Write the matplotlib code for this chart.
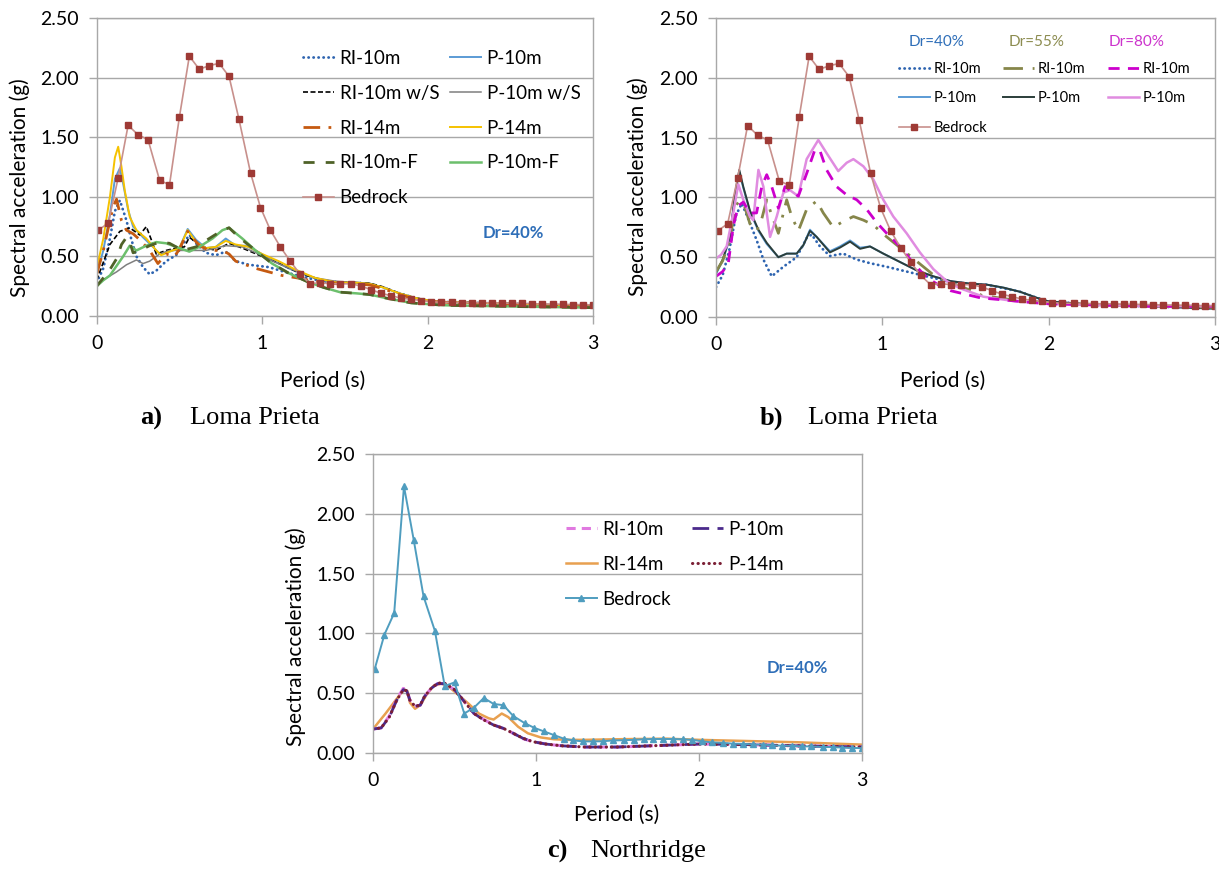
import numpy as np
import matplotlib
matplotlib.use("Agg")
import matplotlib.pyplot as plt
from matplotlib.legend import Legend

plt.rcParams['font.family'] = ['Lato', 'DejaVu Sans']

W, H = 1219, 871

# ---------------- data ----------------
T_BED = [0.01, 0.07, 0.13, 0.19, 0.25, 0.31, 0.38, 0.44, 0.50, 0.56, 0.62, 0.68, 0.74, 0.80,
         0.86, 0.93, 0.99, 1.05, 1.11, 1.17, 1.23, 1.29, 1.35, 1.41, 1.47, 1.54, 1.60, 1.66,
         1.72, 1.78, 1.84, 1.90, 1.96, 2.02, 2.08, 2.15, 2.21, 2.27, 2.33, 2.39, 2.45, 2.51,
         2.57, 2.63, 2.69, 2.76, 2.82, 2.88, 2.94, 3.00]
LP_BEDROCK = [0.72, 0.78, 1.16, 1.60, 1.52, 1.48, 1.14, 1.10, 1.67, 2.18, 2.07, 2.10, 2.12, 2.01,
              1.65, 1.20, 0.91, 0.72, 0.58, 0.46, 0.35, 0.27, 0.28, 0.27, 0.27, 0.27, 0.25, 0.22,
              0.19, 0.17, 0.15, 0.14, 0.13, 0.12, 0.115, 0.115, 0.113, 0.112, 0.11, 0.11, 0.108,
              0.106, 0.105, 0.103, 0.10, 0.10, 0.098, 0.096, 0.095, 0.093]
NR_BEDROCK = [0.70, 0.99, 1.17, 2.23, 1.78, 1.31, 1.02, 0.56, 0.59, 0.33, 0.38, 0.46, 0.41, 0.40,
              0.31, 0.25, 0.21, 0.18, 0.15, 0.12, 0.105, 0.097, 0.097, 0.098, 0.105, 0.107, 0.11,
              0.115, 0.117, 0.117, 0.117, 0.115, 0.11, 0.097, 0.089, 0.084, 0.078, 0.076, 0.072,
              0.07, 0.064, 0.061, 0.06, 0.056, 0.055, 0.05, 0.05, 0.045, 0.043, 0.04]

# panel a (Loma Prieta, Dr=40%)
A_RI10_T = [0, 0.04, 0.08, 0.11, 0.14, 0.18, 0.21, 0.24, 0.28, 0.32, 0.36, 0.42, 0.48, 0.53, 0.56,
            0.60, 0.66, 0.72, 0.78, 0.84, 0.92, 1.04, 1.16, 1.27, 1.37, 1.47, 1.57, 1.65, 1.73,
            1.83, 1.93, 2.05, 2.3, 2.6, 3.0]
A_RI10 = [0.28, 0.40, 0.65, 0.88, 0.97, 0.80, 0.64, 0.50, 0.41, 0.35, 0.38, 0.46, 0.51, 0.62, 0.68,
          0.61, 0.53, 0.51, 0.54, 0.46, 0.43, 0.41, 0.36, 0.32, 0.29, 0.28, 0.28, 0.27, 0.24,
          0.19, 0.15, 0.12, 0.11, 0.10, 0.08]
A_P10_T = [0, 0.04, 0.08, 0.11, 0.14, 0.16, 0.19, 0.22, 0.28, 0.34, 0.38, 0.44, 0.50, 0.55, 0.60,
           0.66, 0.72, 0.78, 0.84, 0.90, 0.96, 1.06, 1.16, 1.27, 1.37, 1.47, 1.57, 1.65, 1.73,
           1.83, 1.93, 2.05, 2.3, 2.6, 3.0]
A_P10 = [0.35, 0.55, 0.85, 1.15, 1.24, 1.11, 0.89, 0.75, 0.66, 0.58, 0.52, 0.54, 0.57, 0.73, 0.64,
         0.57, 0.58, 0.65, 0.59, 0.59, 0.55, 0.47, 0.40, 0.34, 0.30, 0.28, 0.28, 0.27, 0.24,
         0.19, 0.15, 0.12, 0.11, 0.10, 0.08]
A_RI10S_T = [0, 0.04, 0.08, 0.14, 0.20, 0.26, 0.30, 0.33, 0.36, 0.42, 0.48, 0.53, 0.56, 0.64, 0.72,
             0.80, 0.88, 1.0, 1.12, 1.24, 1.37, 1.47, 1.57, 1.65, 1.73, 1.83, 1.93, 2.05, 2.3,
             2.6, 3.0]
A_RI10S = [0.30, 0.45, 0.60, 0.71, 0.74, 0.68, 0.75, 0.64, 0.52, 0.55, 0.57, 0.58, 0.66, 0.58, 0.55,
           0.61, 0.57, 0.50, 0.43, 0.35, 0.30, 0.285, 0.28, 0.275, 0.245, 0.19, 0.15, 0.12, 0.11,
           0.10, 0.08]
A_P10S_T = [0, 0.06, 0.12, 0.18, 0.24, 0.28, 0.32, 0.38, 0.44, 0.54, 0.66, 0.78, 0.88, 0.98, 1.08,
            1.2, 1.32, 1.45, 1.57, 1.65, 1.73, 1.83, 1.93, 2.05, 2.3, 2.6, 3.0]
A_P10S = [0.27, 0.32, 0.37, 0.43, 0.47, 0.44, 0.46, 0.52, 0.55, 0.55, 0.55, 0.59, 0.58, 0.52, 0.45,
          0.38, 0.32, 0.29, 0.28, 0.27, 0.24, 0.19, 0.15, 0.12, 0.11, 0.10, 0.08]
A_RI14_T = [0, 0.04, 0.08, 0.10, 0.12, 0.15, 0.18, 0.22, 0.26, 0.32, 0.37, 0.42, 0.47, 0.50, 0.55,
            0.62, 0.68, 0.76, 0.80, 0.84, 0.96, 1.04, 1.12, 1.21, 1.32, 1.45, 1.57, 1.65, 1.73,
            1.83, 1.93, 2.05, 2.3, 2.6, 3.0]
A_RI14 = [0.35, 0.55, 0.80, 0.92, 0.98, 0.80, 0.72, 0.69, 0.64, 0.55, 0.44, 0.52, 0.50, 0.56, 0.71,
          0.59, 0.55, 0.55, 0.52, 0.46, 0.40, 0.37, 0.34, 0.32, 0.29, 0.27, 0.27, 0.26, 0.23,
          0.18, 0.14, 0.12, 0.10, 0.09, 0.08]
A_P14_T = [0, 0.04, 0.08, 0.11, 0.13, 0.15, 0.17, 0.20, 0.24, 0.30, 0.36, 0.39, 0.44, 0.50, 0.55,
           0.60, 0.66, 0.72, 0.78, 0.84, 0.92, 1.00, 1.10, 1.20, 1.32, 1.45, 1.57, 1.65, 1.73,
           1.83, 1.93, 2.05, 2.3, 2.6, 3.0]
A_P14 = [0.40, 0.65, 1.00, 1.33, 1.42, 1.25, 1.05, 0.83, 0.72, 0.65, 0.55, 0.51, 0.54, 0.57, 0.72,
         0.62, 0.57, 0.58, 0.63, 0.60, 0.58, 0.52, 0.46, 0.39, 0.32, 0.28, 0.28, 0.27, 0.24,
         0.19, 0.15, 0.12, 0.11, 0.10, 0.08]
A_RI10F_T = [0, 0.04, 0.08, 0.12, 0.15, 0.18, 0.20, 0.22, 0.26, 0.32, 0.38, 0.44, 0.52, 0.60, 0.68,
             0.76, 0.80, 0.86, 0.96, 1.06, 1.16, 1.27, 1.37, 1.47, 1.57, 1.65, 1.75, 1.9, 2.1,
             2.5, 3.0]
A_RI10F = [0.25, 0.32, 0.39, 0.48, 0.60, 0.66, 0.62, 0.53, 0.55, 0.59, 0.62, 0.61, 0.55, 0.58, 0.65,
           0.72, 0.74, 0.66, 0.55, 0.44, 0.36, 0.29, 0.24, 0.20, 0.19, 0.18, 0.15, 0.11, 0.09,
           0.08, 0.07]
A_P10F_T = [0, 0.04, 0.08, 0.12, 0.16, 0.20, 0.24, 0.30, 0.36, 0.42, 0.50, 0.56, 0.62, 0.70, 0.76,
            0.80, 0.88, 0.96, 1.06, 1.16, 1.27, 1.37, 1.47, 1.57, 1.65, 1.75, 1.9, 2.1, 2.5, 3.0]
A_P10F = [0.25, 0.30, 0.34, 0.42, 0.50, 0.59, 0.55, 0.59, 0.62, 0.61, 0.57, 0.54, 0.58, 0.65, 0.72,
          0.74, 0.65, 0.55, 0.44, 0.36, 0.29, 0.24, 0.20, 0.19, 0.18, 0.15, 0.11, 0.09, 0.08, 0.07]

# panel b (Loma Prieta, Dr comparison)
B_RI40_T = [0, 0.04, 0.08, 0.12, 0.155, 0.20, 0.245, 0.285, 0.335, 0.405, 0.485, 0.545, 0.575,
            0.625, 0.685, 0.765, 0.846, 0.926, 1.026, 1.146, 1.266, 1.39, 1.5, 1.63, 1.73, 1.83,
            1.93, 2.0, 2.3, 2.6, 3.0]
B_RI40 = [0.25, 0.35, 0.56, 0.85, 0.95, 0.80, 0.64, 0.48, 0.34, 0.42, 0.50, 0.66, 0.69, 0.59, 0.51,
          0.53, 0.48, 0.45, 0.42, 0.38, 0.34, 0.30, 0.28, 0.27, 0.24, 0.21, 0.16, 0.13, 0.10,
          0.09, 0.07]
B_P_T = [0, 0.04, 0.084, 0.114, 0.14, 0.164, 0.204, 0.255, 0.305, 0.375, 0.425, 0.485, 0.525,
         0.565, 0.605, 0.685, 0.745, 0.806, 0.866, 0.926, 1.006, 1.106, 1.206, 1.307, 1.41, 1.52,
         1.63, 1.73, 1.83, 1.93, 2.0, 2.3, 2.6, 3.0]
B_P40 = [0.36, 0.47, 0.66, 1.02, 1.21, 1.08, 0.88, 0.72, 0.61, 0.50, 0.53, 0.53, 0.60, 0.73, 0.67,
         0.55, 0.59, 0.64, 0.58, 0.59, 0.53, 0.46, 0.39, 0.34, 0.30, 0.28, 0.27, 0.245, 0.21,
         0.16, 0.13, 0.10, 0.09, 0.07]
B_P55 = [0.37, 0.48, 0.67, 1.03, 1.23, 1.09, 0.89, 0.73, 0.62, 0.50, 0.53, 0.53, 0.60, 0.72, 0.67,
         0.54, 0.58, 0.63, 0.57, 0.59, 0.53, 0.46, 0.39, 0.34, 0.30, 0.28, 0.27, 0.245, 0.21,
         0.16, 0.13, 0.10, 0.09, 0.07]
B_RI55_T = [0, 0.04, 0.084, 0.114, 0.134, 0.164, 0.204, 0.245, 0.275, 0.305, 0.335, 0.375, 0.425,
            0.455, 0.495, 0.545, 0.605, 0.645, 0.705, 0.766, 0.826, 0.886, 0.946, 1.0, 1.15, 1.3,
            1.4, 1.5, 1.6, 1.8, 2.0, 2.3, 2.6, 3.0]
B_RI55 = [0.38, 0.47, 0.64, 0.92, 0.96, 0.96, 0.78, 0.72, 0.82, 0.98, 0.85, 0.70, 0.98, 0.84, 0.72,
          0.90, 0.97, 0.87, 0.75, 0.80, 0.84, 0.81, 0.77, 0.70, 0.53, 0.36, 0.29, 0.24, 0.18,
          0.14, 0.12, 0.10, 0.09, 0.08]
B_RI80_T = [0, 0.04, 0.074, 0.104, 0.134, 0.164, 0.204, 0.244, 0.275, 0.305, 0.335, 0.375, 0.415,
            0.455, 0.495, 0.545, 0.595, 0.625, 0.665, 0.725, 0.786, 0.846, 0.906, 0.966, 1.026,
            1.106, 1.186, 1.267, 1.347, 1.41, 1.59, 1.83, 2.0, 2.3, 2.6, 3.0]
B_RI80 = [0.34, 0.38, 0.45, 0.76, 0.93, 0.96, 0.87, 0.87, 1.09, 1.19, 1.09, 0.91, 1.09, 1.05, 1.01,
          1.20, 1.40, 1.39, 1.23, 1.09, 1.02, 0.98, 0.90, 0.79, 0.70, 0.59, 0.45, 0.33, 0.26,
          0.22, 0.16, 0.13, 0.11, 0.10, 0.09, 0.09]
B_P80_T = [0, 0.03, 0.064, 0.104, 0.134, 0.164, 0.204, 0.224, 0.255, 0.285, 0.305, 0.325, 0.365,
           0.405, 0.445, 0.495, 0.545, 0.615, 0.665, 0.735, 0.786, 0.826, 0.886, 0.946, 1.006,
           1.066, 1.146, 1.226, 1.307, 1.387, 1.467, 1.607, 1.808, 2.0, 2.3, 2.6, 3.0]
B_P80 = [0.49, 0.52, 0.59, 0.87, 1.11, 0.98, 0.84, 0.81, 1.23, 1.09, 0.87, 0.67, 0.84, 1.04, 1.06,
         1.01, 1.32, 1.48, 1.37, 1.22, 1.29, 1.32, 1.26, 1.15, 0.98, 0.84, 0.70, 0.54, 0.40,
         0.30, 0.24, 0.17, 0.13, 0.11, 0.10, 0.09, 0.09]

# panel c (Northridge, Dr=40%)
C_T = [0, 0.05, 0.10, 0.145, 0.186, 0.207, 0.227, 0.258, 0.29, 0.315, 0.356, 0.397, 0.438, 0.50,
       0.56, 0.62, 0.68, 0.74, 0.80, 0.86, 0.92, 0.98, 1.06, 1.16, 1.3, 1.5, 1.7, 2.0, 2.3, 2.6, 3.0]
C_RI10 = [0.20, 0.21, 0.31, 0.45, 0.54, 0.53, 0.44, 0.39, 0.40, 0.47, 0.54, 0.58, 0.58, 0.53, 0.43,
          0.33, 0.28, 0.235, 0.205, 0.165, 0.12, 0.095, 0.075, 0.06, 0.05, 0.05, 0.06, 0.075,
          0.07, 0.06, 0.05]
C_P10 = [0.20, 0.21, 0.30, 0.44, 0.53, 0.52, 0.44, 0.39, 0.40, 0.47, 0.54, 0.58, 0.58, 0.53, 0.43,
         0.33, 0.276, 0.234, 0.206, 0.165, 0.123, 0.095, 0.075, 0.06, 0.05, 0.05, 0.06, 0.075,
         0.07, 0.06, 0.05]
C_P14 = [0.20, 0.21, 0.30, 0.44, 0.53, 0.52, 0.44, 0.39, 0.40, 0.47, 0.54, 0.585, 0.585, 0.53,
         0.43, 0.33, 0.276, 0.234, 0.206, 0.165, 0.123, 0.095, 0.075, 0.06, 0.05, 0.05, 0.06,
         0.075, 0.07, 0.06, 0.05]
C_RI14_T = [0, 0.077, 0.138, 0.19, 0.21, 0.227, 0.258, 0.29, 0.33, 0.37, 0.417, 0.46, 0.52, 0.588,
            0.65, 0.71, 0.74, 0.79, 0.83, 0.89, 0.95, 1.03, 1.11, 1.2, 1.3, 1.5, 1.8, 2.0, 2.3,
            2.6, 3.0]
C_RI14 = [0.20, 0.33, 0.44, 0.53, 0.52, 0.42, 0.37, 0.40, 0.49, 0.56, 0.58, 0.56, 0.49, 0.41, 0.33,
          0.29, 0.28, 0.33, 0.30, 0.22, 0.165, 0.13, 0.115, 0.11, 0.11, 0.115, 0.12, 0.11, 0.10,
          0.09, 0.07]

YTICKS = [0.0, 0.5, 1.0, 1.5, 2.0, 2.5]
XTICKS = [0, 1, 2, 3]

GRID = '#A8A8A8'
BLUE_TXT = '#2E6EB8'

fig = plt.figure(figsize=(W / 100, H / 100), dpi=100)


def px_axes(l, t, r, b):
    return fig.add_axes([l / W, 1 - b / H, (r - l) / W, (b - t) / H])


def style(ax):
    ax.set_xlim(0, 3)
    ax.set_ylim(0, 2.5)
    ax.set_xticks(XTICKS)
    ax.set_xticklabels([str(v) for v in XTICKS])
    ax.set_yticks(YTICKS)
    ax.set_yticklabels(['%.2f' % v for v in YTICKS])
    ax.yaxis.grid(True, color=GRID, lw=1.0)
    ax.set_axisbelow(True)
    for s in ax.spines.values():
        s.set_color(GRID)
        s.set_linewidth(1.0)
    ax.tick_params(direction='out', length=6, width=1, color=GRID, labelsize=14,
                   labelcolor='black')
    ax.tick_params(axis='y', pad=7)
    ax.tick_params(axis='x', pad=8)


def ftext(x, y, s, **kw):
    fig.text(x / W, 1 - y / H, s, **kw)


def col_legend(ax, handles, x, y, fs, hl, ls):
    leg = Legend(ax, handles, [h.get_label() for h in handles], loc='upper left',
                 bbox_to_anchor=(x / W, 1 - y / H), bbox_transform=fig.transFigure,
                 frameon=False, borderpad=0, borderaxespad=0, handlelength=hl,
                 handletextpad=0.3, labelspacing=ls, fontsize=fs)
    ax.add_artist(leg)


dot = dict(ls=(0, (0.1, 1.7)), dash_capstyle='round')
BED_LINE = '#C8908C'
BED_MARK = '#9E3A35'

# ---------------- panel a ----------------
ax = px_axes(96.7, 18, 593, 316)
style(ax)
h_ri10, = ax.plot(A_RI10_T, A_RI10, color='#2E64B0', lw=2.0, label='RI-10m', **dot)
h_p10, = ax.plot(A_P10_T, A_P10, color='#5B9BD5', lw=1.4, label='P-10m')
h_ri10s, = ax.plot(A_RI10S_T, A_RI10S, color='black', lw=1.2, ls=(0, (3, 1.5)), label='RI-10m w/S')
h_p10s, = ax.plot(A_P10S_T, A_P10S, color='#7F7F7F', lw=1.1, label='P-10m w/S')
h_p14, = ax.plot(A_P14_T, A_P14, color='#F5C200', lw=1.4, label='P-14m')
h_ri14, = ax.plot(A_RI14_T, A_RI14, color='#C55A11', lw=2.0, ls=(0, (6, 3, 1, 3)), label='RI-14m')
h_p10f, = ax.plot(A_P10F_T, A_P10F, color='#6CBF6C', lw=1.8, label='P-10m-F')
h_ri10f, = ax.plot(A_RI10F_T, A_RI10F, color='#4F6228', lw=2.0, ls=(0, (4, 4)), label='RI-10m-F')
h_bed, = ax.plot(T_BED, LP_BEDROCK, color=BED_LINE, lw=1.2, marker='s', ms=4.5,
                 mfc=BED_MARK, mec=BED_MARK, label='Bedrock')
col_legend(ax, [h_ri10, h_ri10s, h_ri14, h_ri10f, h_bed], 303, 50, 13.5, 1.65, 0.95)
col_legend(ax, [h_p10, h_p10s, h_p14, h_p10f], 450, 50, 13.5, 1.65, 0.95)
ftext(513, 233, 'Dr=40%', color=BLUE_TXT, fontsize=12, fontweight='bold', ha='center', va='center')
ftext(20, 188, 'Spectral acceleration (g)', rotation=90, fontsize=15, ha='center', va='center')
ftext(323, 381, 'Period (s)', fontsize=15, ha='center', va='center')

# ---------------- panel b ----------------
bx = px_axes(716, 18, 1215, 317)
style(bx)
g_ri40, = bx.plot(B_RI40_T, B_RI40, color='#2E64B0', lw=2.0, label='RI-10m', **dot)
g_p40, = bx.plot(B_P_T, B_P40, color='#5B9BD5', lw=1.4, label='P-10m')
g_p55, = bx.plot(B_P_T, B_P55, color='#2B3E3A', lw=1.4, label='P-10m')
g_ri55, = bx.plot(B_RI55_T, B_RI55, color='#86864A', lw=2.0, ls=(0, (7, 3.5, 1, 3.5)), label='RI-10m')
g_p80, = bx.plot(B_P80_T, B_P80, color='#E08CE0', lw=1.8, label='P-10m')
g_ri80, = bx.plot(B_RI80_T, B_RI80, color='#CC00CC', lw=2.0, ls=(0, (4, 3)), label='RI-10m')
g_bed, = bx.plot(T_BED, LP_BEDROCK, color=BED_LINE, lw=1.2, marker='s', ms=4.5,
                 mfc=BED_MARK, mec=BED_MARK, label='Bedrock')
col_legend(bx, [g_ri40, g_p40, g_bed], 899, 62, 10.5, 2.1, 1.05)
col_legend(bx, [g_ri55, g_p55], 1003, 62, 10.5, 2.1, 1.05)
col_legend(bx, [g_ri80, g_p80], 1108, 62, 10.5, 2.1, 1.05)
ftext(937, 42, 'Dr=40%', color=BLUE_TXT, fontsize=11, ha='center', va='center')
ftext(1037, 42, 'Dr=55%', color='#8C8C50', fontsize=11, ha='center', va='center')
ftext(1137, 42, 'Dr=80%', color='#CC33CC', fontsize=11, ha='center', va='center')
ftext(638, 187, 'Spectral acceleration (g)', rotation=90, fontsize=15, ha='center', va='center')
ftext(943, 381, 'Period (s)', fontsize=15, ha='center', va='center')

# ---------------- panel c ----------------
cx = px_axes(373, 454, 862, 753)
style(cx)
k_ri14, = cx.plot(C_RI14_T, C_RI14, color='#E8A050', lw=1.8, label='RI-14m')
k_ri10, = cx.plot(C_T, C_RI10, color='#E079E0', lw=2.2, ls=(0, (3, 2)), label='RI-10m')
k_p10, = cx.plot(C_T, C_P10, color='#4B2A8C', lw=2.0, ls=(0, (6, 3)), label='P-10m')
k_p14, = cx.plot(C_T, C_P14, color='#7B1F35', lw=2.2, label='P-14m', **dot)
k_bed, = cx.plot(T_BED, NR_BEDROCK, color='#4F9DBF', lw=1.4, marker='^', ms=4.5,
                 mfc='#4F9DBF', mec='#4F9DBF', label='Bedrock')
col_legend(cx, [k_ri10, k_ri14, k_bed], 566, 521, 13.5, 1.65, 0.95)
col_legend(cx, [k_p10, k_p14], 692, 521, 13.5, 1.65, 0.95)
ftext(797, 668, 'Dr=40%', color=BLUE_TXT, fontsize=12, fontweight='bold', ha='center', va='center')
ftext(296, 637, 'Spectral acceleration (g)', rotation=90, fontsize=15, ha='center', va='center')
ftext(617, 815, 'Period (s)', fontsize=15, ha='center', va='center')

# ---------------- captions ----------------
serif = ['Liberation Serif', 'DejaVu Serif']
for lx, tx, y, lab, name in [(140, 190, 418, 'a)', 'Loma Prieta'),
                             (760, 808, 418, 'b)', 'Loma Prieta'),
                             (547, 590, 851, 'c)', 'Northridge')]:
    ftext(lx, y, lab, family=serif, fontsize=19, fontweight='bold', ha='left', va='center')
    ftext(tx, y, name, family=serif, fontsize=19, ha='left', va='center')

fig.savefig('out.png', dpi=100)
